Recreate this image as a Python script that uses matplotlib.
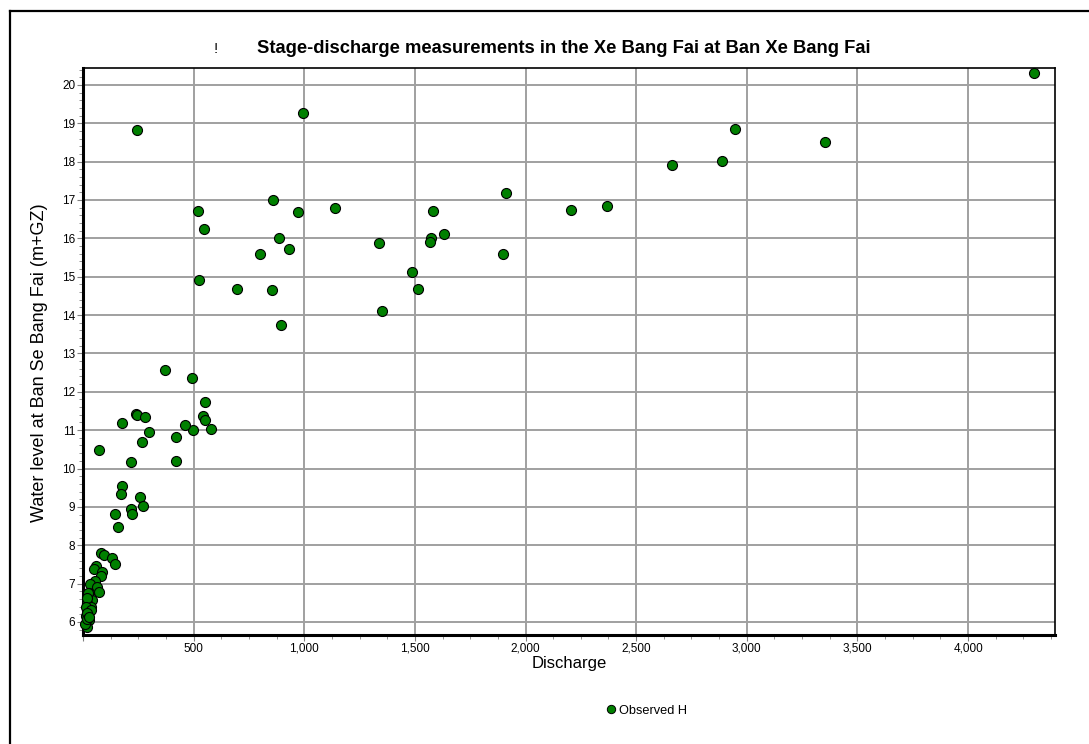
import matplotlib
matplotlib.use("Agg")
import matplotlib.pyplot as plt
from matplotlib.ticker import MultipleLocator, FuncFormatter
from matplotlib.lines import Line2D

plt.rcParams['font.family'] = ['Liberation Sans', 'DejaVu Sans']

# Measured discharge (m3/s) and observed stage H (m+GZ)
discharge = [
    4297, 243, 993, 2948, 3354, 2887, 2661, 1910, 2366, 2204,
    857, 1138, 974, 520, 545, 525, 885, 800, 930, 696, 855, 893,
    1337, 1581, 1575, 1570, 1632, 1486, 1515, 1350, 1900,
    371, 494, 550, 544, 550, 578, 497, 460, 419, 419,
    238, 245, 282, 300, 178, 267, 216, 74,
    178, 172, 258, 216, 220, 273, 145, 160,
    80, 95, 133, 144, 58, 50, 88, 80, 55, 31, 65, 73, 28, 16,
    40, 20, 35, 25, 15, 28, 20, 11, 23, 17, 13, 35, 20, 17, 28,
]
stage = [
    20.31, 18.83, 19.27, 18.85, 18.51, 18.02, 17.91, 17.18, 16.84, 16.74,
    17.00, 16.79, 16.68, 16.70, 16.25, 14.92, 16.01, 15.60, 15.73, 14.69, 14.65, 13.74,
    15.87, 16.71, 16.01, 15.90, 16.11, 15.11, 14.69, 14.10, 15.60,
    12.57, 12.35, 11.73, 11.38, 11.26, 11.04, 11.00, 11.14, 10.82, 10.20,
    11.42, 11.40, 11.34, 10.94, 11.19, 10.69, 10.18, 10.48,
    9.55, 9.33, 9.25, 8.95, 8.82, 9.03, 8.82, 8.47,
    7.81, 7.75, 7.66, 7.50, 7.46, 7.37, 7.29, 7.20, 7.08, 6.99, 6.92, 6.79, 6.75, 6.66,
    6.57, 6.49, 6.38, 6.27, 6.16, 6.05, 5.88, 5.95, 6.75, 6.63, 6.40, 6.31, 6.23, 6.07, 6.14,
]

fig = plt.figure(figsize=(10.89, 7.44), dpi=100)
ax = fig.add_axes([0.0762, 0.1465, 0.8926, 0.7621])

ax.scatter(discharge, stage, s=52, c='#008000', edgecolors='black',
           linewidths=0.8, zorder=3, clip_on=False)

ax.set_xlim(0, 4393)
ax.set_ylim(5.66, 20.44)

ax.xaxis.set_major_locator(MultipleLocator(500))
ax.xaxis.set_minor_locator(MultipleLocator(125))
ax.yaxis.set_major_locator(MultipleLocator(1))
ax.yaxis.set_minor_locator(MultipleLocator(0.2))
ax.xaxis.set_major_formatter(FuncFormatter(lambda v, p: '' if v <= 0 else f'{int(v):,}'))

ax.grid(True, which='major', color='#a0a0a0', linewidth=1.4, zorder=0)
ax.set_axisbelow(True)

ax.tick_params(axis='both', which='major', direction='out', length=4,
               width=0.8, color='#808080', labelsize=8.5, pad=1.5)
ax.tick_params(axis='both', which='minor', direction='out', length=3,
               width=0.6, color='#808080')

for side in ('left', 'bottom'):
    ax.spines[side].set_linewidth(2.2)
for side in ('top', 'right'):
    ax.spines[side].set_linewidth(1.2)

ax.set_xlabel('Discharge', fontsize=12, labelpad=1)
ax.set_ylabel('Water level at Ban Se Bang Fai (m+GZ)', fontsize=13, labelpad=6)
ax.yaxis.set_label_coords(-0.036, 0.48)

fig.text(0.518, 0.935, 'Stage-discharge measurements in the Xe Bang Fai at Ban Xe Bang Fai',
         ha='center', va='center', fontsize=13.2, fontweight='bold')
fig.text(0.198, 0.934, '!', ha='center', va='center', fontsize=11)

handle = Line2D([], [], linestyle='none', marker='o', markersize=6,
                markerfacecolor='#008000', markeredgecolor='black', markeredgewidth=0.7)
fig.legend([handle], ['Observed H'], loc='center', bbox_to_anchor=(0.593, 0.045),
           frameon=False, fontsize=9.2, handletextpad=0.1, handlelength=1.0)

# frame edges along the left and top of the canvas
fig.add_artist(Line2D([10 / 1089, 10 / 1089], [0, 1 - 11 / 744], color='black',
                      linewidth=1.6, transform=fig.transFigure))
fig.add_artist(Line2D([10 / 1089, 1], [1 - 11 / 744, 1 - 11 / 744], color='black',
                      linewidth=1.6, transform=fig.transFigure))

fig.savefig('out.png', dpi=100)
